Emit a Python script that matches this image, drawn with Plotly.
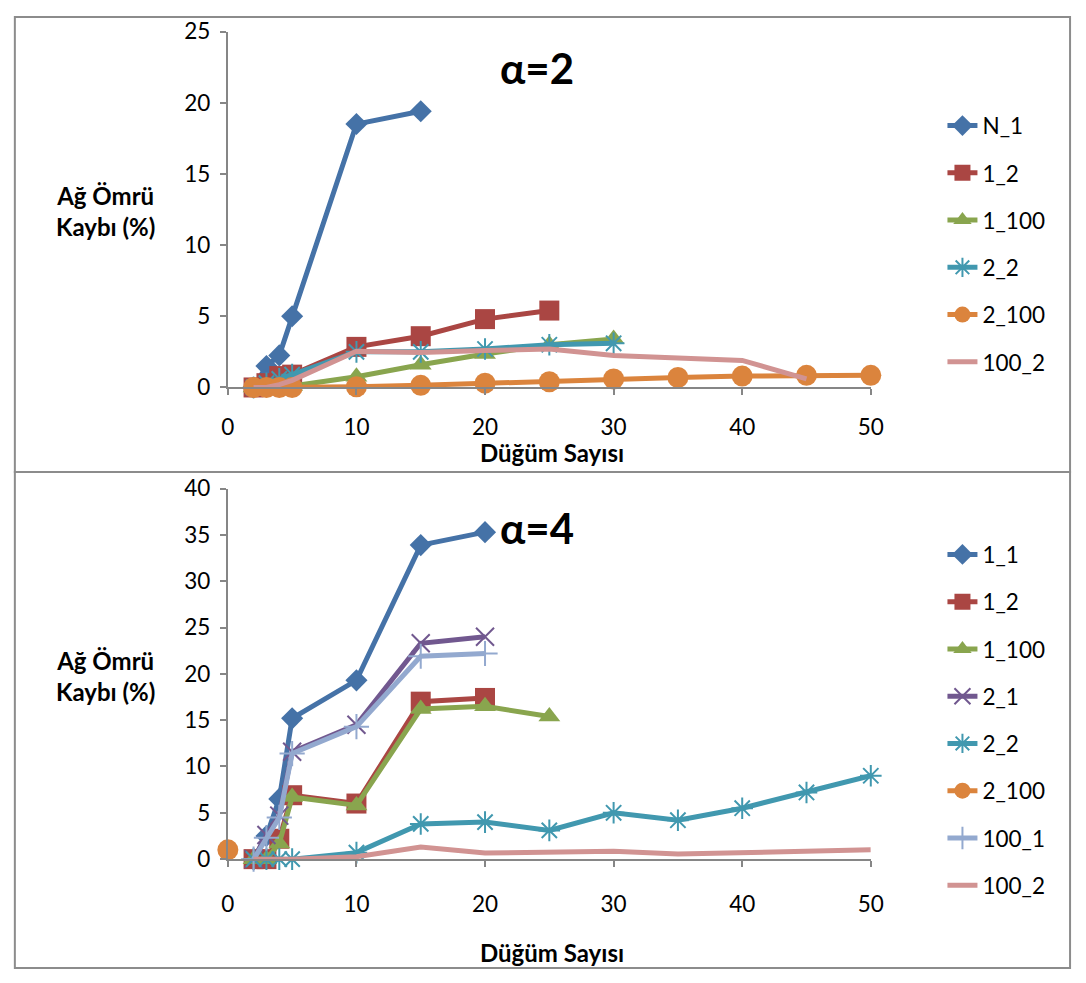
import plotly.graph_objects as go

# ---------- data: alpha = 2 (top) ----------
top_names = ["N_1", "1_2", "1_100", "2_2", "2_100", "100_2"]
top_x = {
    "N_1":   [2, 3, 4, 5, 10, 15],
    "1_2":   [2, 3, 4, 5, 10, 15, 20, 25],
    "1_100": [2, 3, 4, 5, 10, 15, 20, 25, 30],
    "2_2":   [2, 3, 4, 5, 10, 15, 20, 25, 30],
    "2_100": [2, 3, 4, 5, 10, 15, 20, 25, 30, 35, 40, 45, 50],
    "100_2": [2, 3, 4, 5, 10, 15, 20, 25, 30, 35, 40, 45],
}
top_y = {
    "N_1":   [0, 1.5, 2.25, 5.0, 18.5, 19.4],
    "1_2":   [0, 0.3, 0.8, 0.9, 2.85, 3.6, 4.8, 5.4],
    "1_100": [0, 0, 0.05, 0.1, 0.75, 1.6, 2.35, 3.0, 3.4],
    "2_2":   [0, 0.3, 0.6, 0.9, 2.5, 2.5, 2.7, 3.0, 3.1],
    "2_100": [0, 0, 0, 0, 0.05, 0.15, 0.3, 0.4, 0.6, 0.7, 0.8, 0.85, 0.85],
    "100_2": [0, 0, 0.2, 0.5, 2.55, 2.45, 2.6, 2.7, 2.25, 2.1, 1.9, 0.6],
}

# ---------- data: alpha = 4 (bottom) ----------
bot_names = ["1_1", "1_2", "1_100", "2_1", "2_2", "2_100", "100_1", "100_2"]
bot_x = {
    "1_1":   [2, 3, 4, 5, 10, 15, 20],
    "1_2":   [2, 3, 4, 5, 10, 15, 20],
    "1_100": [2, 3, 4, 5, 10, 15, 20, 25],
    "2_1":   [2, 3, 4, 5, 10, 15, 20],
    "2_2":   [2, 3, 4, 5, 10, 15, 20, 25, 30, 35, 40, 45, 50],
    "2_100": [0],
    "100_1": [2, 3, 4, 5, 10, 15, 20],
    "100_2": [2, 3, 4, 5, 10, 15, 20, 25, 30, 35, 40, 45, 50],
}
bot_y = {
    "1_1":   [0, 2.5, 6.5, 15.2, 19.3, 33.9, 35.3],
    "1_2":   [0, 0, 2.2, 6.9, 6.0, 17.0, 17.4],
    "1_100": [0, 0, 1.7, 6.7, 5.8, 16.2, 16.5, 15.4],
    "2_1":   [0, 2.6, 4.7, 11.6, 14.5, 23.3, 24.0],
    "2_2":   [0, 0, 0, 0, 0.7, 3.8, 4.0, 3.1, 5.0, 4.2, 5.5, 7.2, 9.0],
    "2_100": [1.0],
    "100_1": [0, 2.3, 4.5, 11.4, 14.3, 21.9, 22.2],
    "100_2": [0, 0, 0, 0, 0.25, 1.3, 0.65, 0.7, 0.85, 0.55, 0.7, 0.75, 1.0],
}

x_ticks = [0, 10, 20, 30, 40, 50]
top_y_ticks = [0, 5, 10, 15, 20, 25]
bot_y_ticks = [0, 5, 10, 15, 20, 25, 30, 35, 40]

# ---------- styles ----------
style = {
    "N_1":   dict(color="#4572A7", symbol="diamond", size=17),
    "1_1":   dict(color="#4572A7", symbol="diamond", size=17),
    "1_2":   dict(color="#AA4643", symbol="square", size=20),
    "1_100": dict(color="#89A54E", symbol="triangle-up", size=19),
    "2_1":   dict(color="#71588F", symbol="x-thin-open", size=18),
    "2_2":   dict(color="#4198AF", symbol="asterisk-open", size=18),
    "2_100": dict(color="#DB843D", symbol="circle", size=21),
    "100_1": dict(color="#93A9CF", symbol="cross-thin-open", size=18),
    "100_2": dict(color="#D19392", symbol=None, size=0),
}

FONT = "Lato, 'Open Sans', sans-serif"
TICK_SIZE = 22.5
fig = go.Figure()


def add_series(name, xs, ys, xa, ya, legend):
    s = style[name]
    mode = "lines+markers" if s["symbol"] else "lines"
    marker = dict(color=s["color"], size=s["size"])
    if s["symbol"]:
        marker["symbol"] = s["symbol"]
        if "open" in s["symbol"]:
            marker["line"] = dict(color=s["color"], width=2)
    fig.add_trace(go.Scatter(
        x=xs, y=ys, name=name, mode=mode, xaxis=xa, yaxis=ya,
        line=dict(color=s["color"], width=5),
        marker=marker, cliponaxis=False,
        legend=legend, legendgroup=legend + name,
    ))


for n in top_names:
    add_series(n, top_x[n], top_y[n], "x", "y", "legend")
for n in bot_names:
    add_series(n, bot_x[n], bot_y[n], "x2", "y2", "legend2")

W, H = 1086, 983
px = lambda v: v / W
py = lambda v: 1 - v / H

axis_common = dict(
    showline=True, linecolor="#868686", linewidth=2,
    ticks="outside", ticklen=6, tickwidth=2, tickcolor="#868686",
    showgrid=False, zeroline=False,
    tickfont=dict(family=FONT, size=TICK_SIZE, color="#000"),
)

fig.update_layout(
    width=W, height=H,
    margin=dict(l=0, r=0, t=0, b=0),
    paper_bgcolor="white", plot_bgcolor="white",
    font=dict(family=FONT, color="#000"),
    xaxis=dict(domain=[px(225), px(880)], range=[0, 50], tickvals=x_ticks,
               anchor="y", ticklabelstandoff=13, **axis_common),
    yaxis=dict(domain=[py(384), py(18)], range=[0, 25], tickvals=top_y_ticks,
               anchor="x", ticklabelstandoff=5, **axis_common),
    xaxis2=dict(domain=[px(225), px(880)], range=[0, 50], tickvals=x_ticks,
                anchor="y2", ticklabelstandoff=18, **axis_common),
    yaxis2=dict(domain=[py(869), py(488)], range=[0, 40], tickvals=bot_y_ticks,
                anchor="x2", ticklabelstandoff=5, **axis_common),
    legend=dict(x=px(953), y=py(93), xanchor="left", yanchor="top",
                font=dict(family=FONT, size=TICK_SIZE), tracegroupgap=15,
                bgcolor="rgba(0,0,0,0)"),
    legend2=dict(x=px(953), y=py(534), xanchor="left", yanchor="top",
                 font=dict(family=FONT, size=TICK_SIZE), tracegroupgap=15,
                 bgcolor="rgba(0,0,0,0)"),
    showlegend=True,
)

# panel frames
frame = dict(type="rect", xref="paper", yref="paper",
             line=dict(color="#8c8c8c", width=2), fillcolor="rgba(0,0,0,0)")
fig.add_shape(x0=px(8), x1=px(1083), y0=py(471), y1=py(3), **frame)
fig.add_shape(x0=px(8), x1=px(1083), y0=py(981), y1=py(471), **frame)

ann_font = dict(family=FONT, size=24, color="#000")


def ann(x, y, text, font):
    fig.add_annotation(x=px(x), y=py(y), xref="paper", yref="paper",
                       xanchor="center", yanchor="middle", align="center",
                       text=text, showarrow=False, font=font)


title_font = dict(family=FONT, size=42, color="#000")
ann(540, 56, "<b>α=2</b>", title_font)
ann(540, 529, "<b>α=4</b>", title_font)
ann(100, 203, "<b>Ağ Ömrü<br>Kaybı (%)</b>", ann_font)
ann(100, 681, "<b>Ağ Ömrü<br>Kaybı (%)</b>", ann_font)
ann(555, 451, "<b>Düğüm Sayısı</b>", ann_font)
ann(555, 965, "<b>Düğüm Sayısı</b>", ann_font)

post_js = (
    "document.documentElement.style.margin='0';"
    "document.documentElement.style.padding='0';"
    "document.documentElement.style.overflow='hidden';"
    "document.body.style.margin='0';"
    "document.body.style.padding='0';"
    "document.body.style.overflow='hidden';"
    "var d=document.querySelector('.plotly-graph-div');"
    "if(d){d.style.position='fixed';d.style.left='0px';d.style.top='0px';}"
    "window.scrollTo(0,0);"
)

fig.write_html(
    "out.html",
    config={"displayModeBar": False},
    post_script=post_js,
)
